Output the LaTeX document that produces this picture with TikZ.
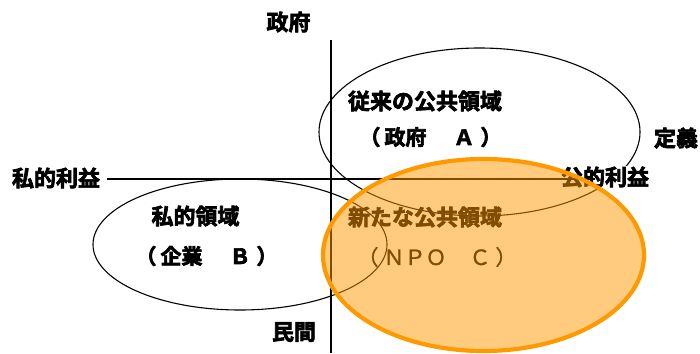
\documentclass[tikz,border=0pt]{standalone}
\usepackage{fontspec}
\newfontfamily\jpn{Noto Sans CJK JP}[FakeBold=1.2]
\newfontfamily\jpb{Noto Sans CJK JP Bold}[FakeBold=3]
\usetikzlibrary{shapes.geometric}
\definecolor{npoorange}{HTML}{FF9900}
\tikzset{
  lbl/.style={font=\jpb\fontsize{22}{22}\selectfont, inner sep=0pt, text=black},
  sublbl/.style={font=\jpb\fontsize{21}{21}\selectfont, inner sep=0pt, text=black},
  npolbl/.style={font=\jpn\fontsize{21}{21}\selectfont, inner sep=0pt, text=black},
  axis/.style={line width=1.2pt, black},
  area/.style={ellipse, draw=black, line width=1.1pt, inner sep=0pt},
  npoarea/.style={ellipse, draw=npoorange, line width=4.2pt, fill=npoorange, fill opacity=0.5, draw opacity=1, inner sep=0pt}
}
\begin{document}
\begin{tikzpicture}[x=1pt,y=-1pt]
\useasboundingbox (0,0) rectangle (700,353);
% axes
\coordinate (vtop) at (331,40);
\coordinate (vbot) at (331,353);
\coordinate (hleft) at (107,179);
\coordinate (hright) at (595,179);
\draw[axis] (vtop) -- (vbot);
% ellipses
\node[area, minimum width=321pt, minimum height=168pt] (A) at (479.5,132) {};
\node[area, minimum width=294pt, minimum height=131pt] (B) at (240,244.5) {};
% labels
\node[lbl] (gov) at (288.5,22) {政府};
\node[lbl] (priv) at (56,178) {私的利益};
\node[lbl] (def) at (676,138) {定義};
\node[lbl, fill=white, inner ysep=1pt] (pub) at (605,177) {公的利益};
\draw[axis] (hleft) -- (hright);
\node[lbl] (min) at (294,332) {民間};
\node[lbl] (atitle) at (425,101) {従来の公共領域};
\node[sublbl] (asub) at (430.5,137) {（\kern4pt 政府\kern6pt　Ａ\kern6pt ）};
\node[lbl] (btitle) at (195.5,216) {私的領域};
\node[sublbl] (bsub) at (206.5,256) {（\kern4pt 企業\kern6pt　Ｂ\kern6pt ）};
\node[lbl] (ctitle) at (425,217) {新たな公共領域};
\node[npolbl] (csub) at (437,257) {（\kern5pt ＮＰＯ\kern2pt　Ｃ\kern5pt ）};
% NPO ellipse on top
\node[npoarea, minimum width=321pt, minimum height=192pt] (C) at (483.5,255) {};
\end{tikzpicture}
\end{document}
